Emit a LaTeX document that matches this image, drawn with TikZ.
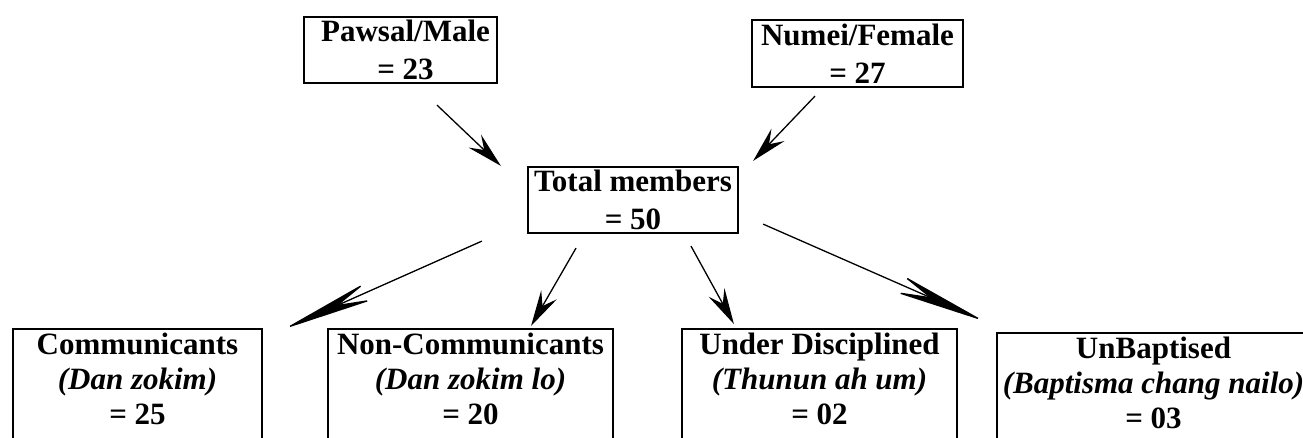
\documentclass[tikz,border=0pt]{standalone}
\usepackage{fontspec}
\setmainfont{Liberation Serif}
\usetikzlibrary{arrows.meta,calc}
\newcommand\lowstrut{\rule[-60pt]{0pt}{0pt}}
\begin{document}
\begin{tikzpicture}[x=1pt,y=-1pt,
 box/.style={draw,line width=2.2pt,inner sep=0pt,align=center,font=\fontsize{31}{38}\selectfont\bfseries},
 lowbox/.style={box,anchor=north,inner ysep=4pt,font=\fontsize{31}{35}\selectfont\bfseries},
 arr/.style={line width=1.3pt,-{Stealth[length=36pt,width=18pt,inset=13pt]}},
 bigarr/.style={line width=1.3pt,-{Stealth[length=95pt,width=19pt,inset=35pt]}}]
\useasboundingbox (0,0) rectangle (1303,438);
\clip (0,0) rectangle (1303,438);
\node[box,minimum width=193pt,minimum height=66pt] (male) at (400.5,50) {\hspace*{10pt}Pawsal/Male\\\hspace*{10pt}= 23};
\node[box,minimum width=211pt,minimum height=67pt] (female) at (857.5,53.5) {Numei/Female\\= 27};
\node[box,minimum width=210pt,minimum height=66pt] (total) at (633,200) {Total members\\= 50};
\node[lowbox,minimum width=249pt] (comm) at (137.5,328) {Communicants\\\textit{(Dan zokim)}\\= 25\lowstrut};
\node[lowbox,minimum width=285pt] (noncomm) at (470.5,328) {Non-Communicants\\\textit{(Dan zokim lo)}\\= 20\lowstrut};
\node[lowbox,minimum width=275pt] (under) at (819.5,328) {Under Disciplined\\\textit{(Thunun ah um)}\\= 02\lowstrut};
\node[lowbox,minimum width=313pt] (unbap) at (1153.5,332) {UnBaptised\\\textit{(Baptisma chang nailo)}\\= 03\lowstrut};
\coordinate (s1) at ($(male.south)+(36.5,21)$);
\coordinate (e1) at ($(total.north west)+(-26,0)$);
\coordinate (s2) at ($(female.south)+(-42.5,8)$);
\coordinate (e2) at ($(total.north east)+(14,-5)$);
\coordinate (s3) at ($(total.south west)+(-45,7)$);
\coordinate (e3) at ($(comm.north east)+(21,1)$);
\coordinate (s4) at ($(total.south)+(-57,14)$);
\coordinate (e4) at ($(noncomm.north)+(60.5,-2)$);
\coordinate (s5) at ($(total.south)+(58,12)$);
\coordinate (e5) at ($(under.north west)+(53,-4)$);
\coordinate (s6) at ($(total.south east)+(24,-10)$);
\coordinate (e6) at ($(unbap.north west)+(-12,-11)$);
\draw[arr] (s1) -- (e1);
\draw[arr] (s2) -- (e2);
\draw[bigarr] (s3) -- (e3);
\draw[arr] (s4) -- (e4);
\draw[arr] (s5) -- (e5);
\draw[bigarr] (s6) -- (e6);
\end{tikzpicture}
\end{document}
